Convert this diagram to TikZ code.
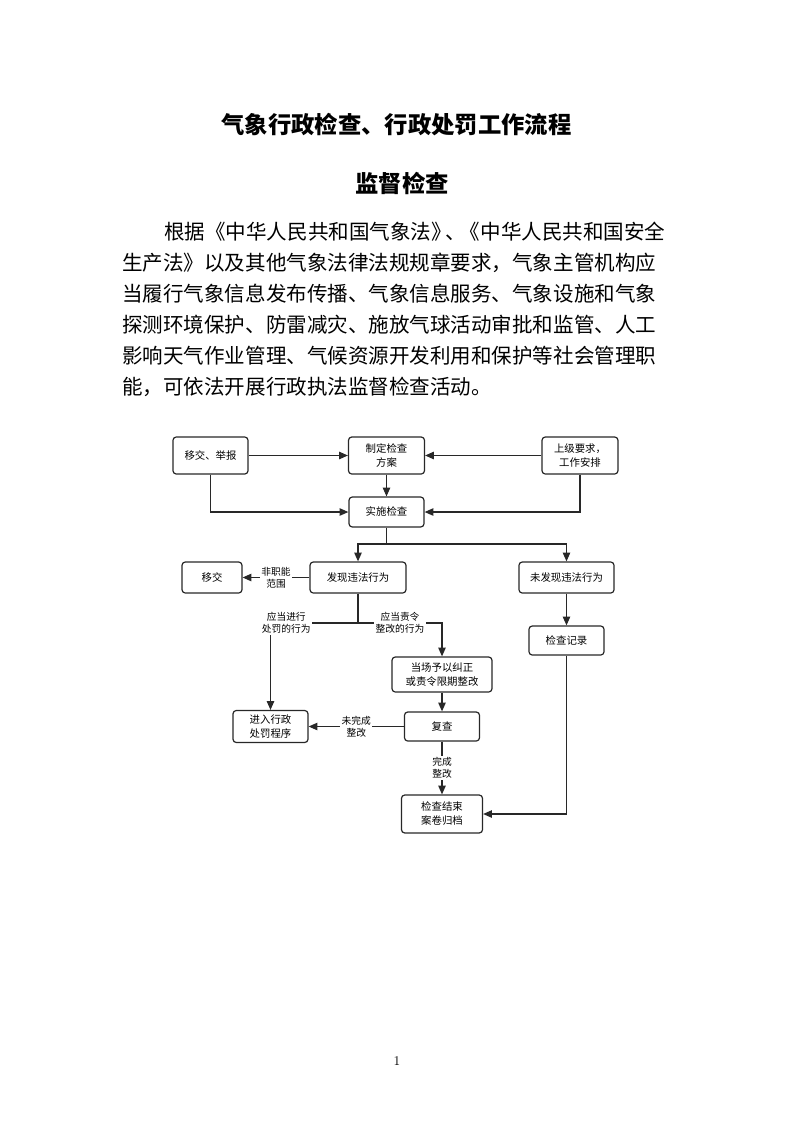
\documentclass[tikz,border=0pt]{standalone}
\usepackage{fontspec}
\newfontfamily\cjk{Noto Sans CJK SC}
\usetikzlibrary{arrows.meta}

\begin{document}
\begin{tikzpicture}[x=0.75pt,y=0.75pt,yscale=-1,xscale=1,
	flowbox/.style={draw={rgb,255:red,40;green,40;blue,40}, line width=0.9pt, rounded corners=2.5pt, align=center, inner sep=1pt, font=\cjk\fontsize{7.8}{10.5}\selectfont},
	flowline/.style={draw={rgb,255:red,40;green,40;blue,40}, line width=0.9pt},
	tip/.style={flowline, -{Triangle[length=6.5pt,width=5.5pt]}},
	lbl/.style={fill=white, inner sep=1pt, align=center, font=\cjk\fontsize{7.3}{9}\selectfont},
	bodyline/.style={anchor=west, inner sep=0pt, font=\cjk\fontsize{15.4}{18}\selectfont}]
	%Page
	\fill [white] (0,0) rectangle (793,1122);
	\useasboundingbox (0,0) rectangle (793,1122);
	%Headings
	\node [inner sep=0pt, font=\cjk\bfseries\fontsize{17.5}{20}\selectfont] (title) at (396.5,125) {气象行政检查、行政处罚工作流程};
	\node [inner sep=0pt, font=\cjk\bfseries\fontsize{17.5}{20}\selectfont] (subtitle) at (402,183) {监督检查};
	%Paragraph
	\node [bodyline] (para1) at (164,232) {根据《中华人民共和国气象法》\kern-0.3em、\kern-0.3em《中华人民共和国安全};
	\node [bodyline] (para2) at (122,263) {生产法》以及其他气象法律法规规章要求，气象主管机构应};
	\node [bodyline] (para3) at (122,294) {当履行气象信息发布传播、气象信息服务、气象设施和气象};
	\node [bodyline] (para4) at (122,325) {探测环境保护、防雷减灾、施放气球活动审批和监管、人工};
	\node [bodyline] (para5) at (122,356) {影响天气作业管理、气候资源开发利用和保护等社会管理职};
	\node [bodyline] (para6) at (122,387) {能，可依法开展行政执法监督检查活动。};
	%Boxes
	\node [flowbox, minimum width=56.3pt, minimum height=27.8pt] (jubao) at (210.5,455.5) {移交、举报};
	\node [flowbox, minimum width=57pt, minimum height=27.8pt] (fangan) at (386.5,455.5) {制定检查\\方案};
	\node [flowbox, minimum width=57pt, minimum height=27.8pt] (shangji) at (580,455.5) {上级要求，\\工作安排};
	\node [flowbox, minimum width=56.3pt, minimum height=22.5pt] (shishi) at (386.5,512) {实施检查};
	\node [flowbox, minimum width=72pt, minimum height=23.3pt] (faxian) at (358,577.5) {发现违法行为};
	\node [flowbox, minimum width=71.3pt, minimum height=23.3pt] (weifaxian) at (566.5,577.5) {未发现违法行为};
	\node [flowbox, minimum width=45pt, minimum height=23.3pt] (yijiao) at (212,577.5) {移交};
	\node [flowbox, minimum width=56.3pt, minimum height=21.8pt] (jilu) at (566.5,640.5) {检查记录};
	\node [flowbox, minimum width=75pt, minimum height=26.3pt] (jiuzheng) at (442,674.5) {当场予以纠正\\或责令限期整改};
	\node [flowbox, minimum width=56.3pt, minimum height=21.8pt] (fucha) at (442,726.5) {复查};
	\node [flowbox, minimum width=56.3pt, minimum height=24pt] (chufa) at (270.5,726.5) {进入行政\\处罚程序};
	\node [flowbox, minimum width=60.8pt, minimum height=28.5pt] (guidang) at (442,814) {检查结束\\案卷归档};
	\coordinate (split) at (386.5,544);
	\coordinate (fork) at (358,623);
	%Connectors
	\draw [tip] (jubao) -- (fangan);
	\draw [tip] (shangji) -- (fangan);
	\draw [tip] (fangan) -- (shishi);
	\draw [tip] (jubao.south) |- (shishi.west);
	\draw [tip] (shangji.south) |- (shishi.east);
	\draw [flowline] (shishi) -- (split);
	\draw [tip] (split) -| (faxian.north);
	\draw [tip] (split) -| (weifaxian.north);
	\draw [tip] (faxian) -- node [lbl] {非职能\\范围} (yijiao);
	\draw [flowline] (faxian) -- (fork);
	\draw [tip] (fork) -| node [lbl, pos=0.41] {应当进行\\处罚的行为} (chufa.north);
	\draw [tip] (fork) -| node [lbl, pos=0.25] {应当责令\\整改的行为} (jiuzheng.north);
	\draw [tip] (weifaxian) -- (jilu);
	\draw [tip] (jiuzheng) -- (fucha);
	\draw [tip] (fucha) -- node [lbl] {未完成\\整改} (chufa);
	\draw [tip] (fucha) -- node [lbl] {完成\\整改} (guidang);
	\draw [tip] (jilu.south) |- (guidang.east);
	%Page number
	\node [inner sep=0pt, font=\fontsize{10}{12}\selectfont] (pagenum) at (397,1061) {1};
\end{tikzpicture}
\end{document}
